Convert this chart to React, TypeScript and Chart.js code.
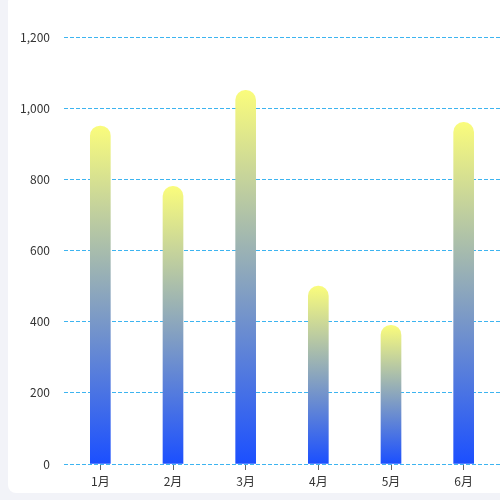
import React, { useEffect, useRef } from "react";
import { Chart, registerables } from "chart.js";

Chart.register(...registerables);

const categories = ["1月", "2月", "3月", "4月", "5月", "6月"];
const values = [950, 780, 1050, 500, 390, 960];
const yTicks = [0, 200, 400, 600, 800, 1000, 1200];

export default function App() {
  const ref = useRef<HTMLCanvasElement | null>(null);

  useEffect(() => {
    if (!ref.current) return;
    const font = { family: "'Noto Sans CJK SC', 'Noto Sans', sans-serif", size: 12 };
    const chart = new Chart(ref.current, {
      type: "bar",
      data: {
        labels: categories,
        datasets: [
          {
            data: values,
            barThickness: 20,
            borderRadius: { topLeft: 10, topRight: 10, bottomLeft: 0, bottomRight: 0 },
            borderSkipped: false,
            backgroundColor: (ctx: any) => {
              const ch = ctx.chart;
              if (!ch.chartArea || ctx.type !== "data") return "#1f52ff";
              const y = ch.scales.y;
              const top = y.getPixelForValue(ctx.raw as number);
              const bottom = y.getPixelForValue(0);
              const g = ch.ctx.createLinearGradient(0, top, 0, bottom);
              g.addColorStop(0, "#fafc7c");
              g.addColorStop(1, "#1b4fff");
              return g;
            },
          },
        ],
      },
      options: {
        responsive: false,
        animation: false,
        layout: { padding: { top: 37, left: 8, right: 0, bottom: 0 } },
        plugins: { legend: { display: false }, tooltip: { enabled: false } },
        scales: {
          x: {
            offset: true,
            border: { display: false },
            grid: {
              offset: false,
              drawOnChartArea: false,
              drawTicks: true,
              tickLength: 6,
              tickColor: "#666",
            },
            ticks: { color: "#333", font, padding: 4 },
            afterFit: (s: any) => {
              s.height = 36;
            },
          },
          y: {
            min: 0,
            max: 1200,
            border: { display: false },
            afterBuildTicks: (s: any) => {
              s.ticks = yTicks.map((v) => ({ value: v }));
            },
            grid: {
              color: "#3db4f0",
              lineWidth: 1,
              drawTicks: false,
              tickBorderDash: [4, 2],
            } as any,
            border: { display: false, dash: [4, 2] } as any,
            ticks: {
              color: "#333",
              font,
              padding: 14,
              callback: (v: any) => Number(v).toLocaleString("en-US"),
            },
            afterFit: (s: any) => {
              s.width = 56;
            },
          },
        },
      },
    });
    return () => chart.destroy();
  }, []);

  return (
    <div
      style={{
        position: "fixed",
        left: 0,
        top: 0,
        width: 500,
        height: 500,
        background: "#f2f3f8",
        overflow: "hidden",
      }}
    >
      <div
        style={{
          position: "absolute",
          left: 8,
          top: -6,
          width: 500,
          height: 499,
          background: "#ffffff",
          borderRadius: 8,
        }}
      />
      <canvas
        ref={ref}
        width={500}
        height={500}
        style={{ position: "absolute", left: 0, top: 0 }}
      />
    </div>
  );
}
